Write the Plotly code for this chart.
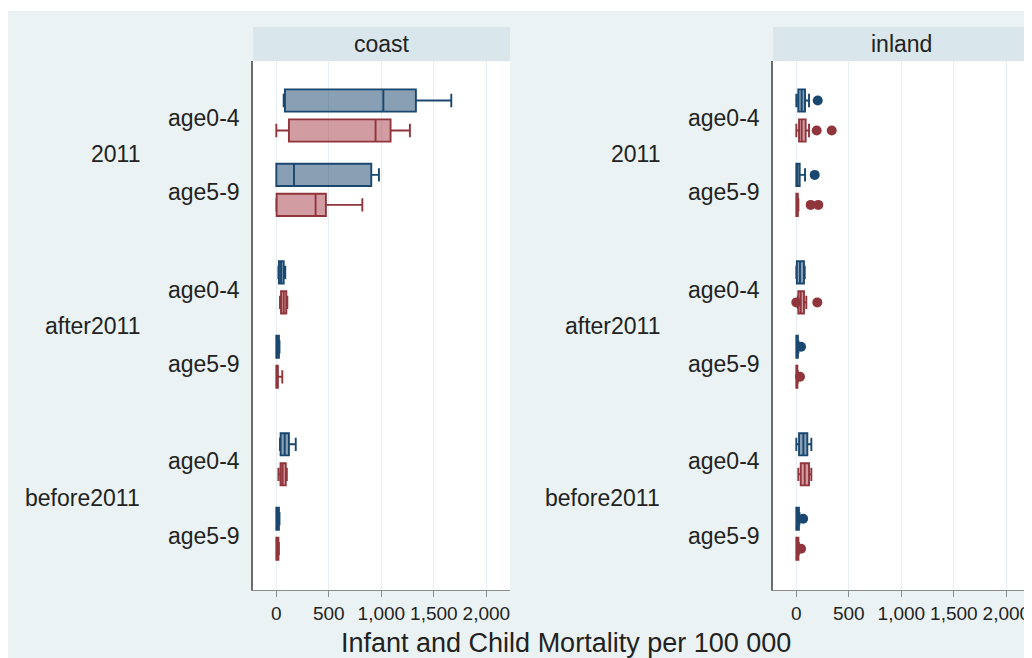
import plotly.graph_objects as go

W, H = 1032, 658

panels = ["coast", "inland"]
groups = ["2011", "after2011", "before2011"]
ages = ["age0-4", "age5-9"]
series = ["Series 1", "Series 2"]
tick_vals = [0, 500, 1000, 1500, 2000]

# Box statistics; order per list: 2011 age0-4, 2011 age5-9, after age0-4, after age5-9, before age0-4, before age5-9
coast_s1_lower = [70, 0, 20, 0, 35, 0]
coast_s1_q1 = [82, 0, 25, 0, 41, 0]
coast_s1_median = [1019, 168, 45, 10, 80, 10]
coast_s1_q3 = [1329, 904, 70, 25, 120, 25]
coast_s1_upper = [1666, 977, 85, 30, 185, 30]
coast_s1_out = [[], [], [], [], [], []]

coast_s2_lower = [0, 0, 35, 0, 20, 0]
coast_s2_q1 = [120, 3, 45, 0, 40, 0]
coast_s2_median = [945, 374, 70, 5, 60, 8]
coast_s2_q3 = [1088, 472, 95, 15, 90, 20]
coast_s2_upper = [1272, 819, 105, 57, 100, 25]
coast_s2_out = [[], [], [], [], [], []]

inland_s1_lower = [0, 0, 0, 0, 0, 0]
inland_s1_q1 = [19, 0, 5, 0, 26, 0]
inland_s1_median = [51, 5, 35, 3, 67, 5]
inland_s1_q3 = [83, 32, 73, 15, 105, 25]
inland_s1_upper = [121, 83, 80, 20, 143, 30]
inland_s1_out = [[204], [175], [], [45], [], [65]]

inland_s2_lower = [0, 0, 15, 0, 19, 0]
inland_s2_q1 = [26, 0, 19, 0, 42, 0]
inland_s2_median = [51, 3, 42, 3, 80, 5]
inland_s2_q3 = [89, 15, 73, 10, 121, 20]
inland_s2_upper = [121, 20, 95, 15, 143, 25]
inland_s2_out = [[194, 337], [137, 209], [0, 200], [35], [], [45]]

stats = {
    ("coast", 0): (coast_s1_lower, coast_s1_q1, coast_s1_median, coast_s1_q3, coast_s1_upper, coast_s1_out),
    ("coast", 1): (coast_s2_lower, coast_s2_q1, coast_s2_median, coast_s2_q3, coast_s2_upper, coast_s2_out),
    ("inland", 0): (inland_s1_lower, inland_s1_q1, inland_s1_median, inland_s1_q3, inland_s1_upper, inland_s1_out),
    ("inland", 1): (inland_s2_lower, inland_s2_q1, inland_s2_median, inland_s2_q3, inland_s2_upper, inland_s2_out),
}

line_colors = ["#1a476f", "#90353b"]
fill_colors = ["rgba(26,71,111,0.52)", "rgba(160,50,60,0.48)"]

# layout of category positions (in category units)
SER_STEP, AGE_STEP, GRP_STEP = 1.0, 2.48, 5.73


def pos(g, a, s):
    return g * GRP_STEP + a * AGE_STEP + s * SER_STEP


# the page body adds an 8px offset; convert screen pixels to paper fractions
OFF = 8


def px_x(x):
    return (x - OFF) / W


def px_y(y):
    return 1 - (y - OFF) / H


FONT = "Liberation Sans, Arial, sans-serif"
fig = go.Figure()

panel_px = {"coast": (253, 510), "inland": (773, 1030)}
plot_top, plot_bot = 61, 590

for pi, panel in enumerate(panels):
    xa = "x" if pi == 0 else "x2"
    ya = "y" if pi == 0 else "y2"
    for s in range(2):
        lo, q1, med, q3, up, outs = stats[(panel, s)]
        ys = [pos(g, a, s) for g in range(3) for a in range(2)]
        fig.add_trace(go.Box(
            y=ys, q1=q1, median=med, q3=q3, lowerfence=lo, upperfence=up,
            orientation="h", width=0.74, whiskerwidth=0.6, boxpoints=False,
            line=dict(color=line_colors[s], width=1.9), fillcolor=fill_colors[s],
            name=series[s], showlegend=False, xaxis=xa, yaxis=ya, hoverinfo="x",
        ))
        ox, oy = [], []
        for i, o in enumerate(outs):
            for v in o:
                ox.append(v)
                oy.append(ys[i])
        if ox:
            fig.add_trace(go.Scatter(
                x=ox, y=oy, mode="markers",
                marker=dict(color=line_colors[s], size=10, line=dict(width=0)),
                showlegend=False, xaxis=xa, yaxis=ya,
            ))

yrange = [(plot_bot - 100.5) / 30.0, (plot_top - 100.5) / 30.0]
xrange = [-222, 2225]
common_x = dict(range=xrange, tickvals=tick_vals, tickformat=",", ticks="outside", ticklen=6,
                tickcolor="#8c8c8c", showline=True, linecolor="#8c8c8c", linewidth=1.2,
                showgrid=True, gridcolor="#e6eef1", gridwidth=1, zeroline=False,
                tickfont=dict(family=FONT, size=19, color="#222"), automargin=False)
common_y = dict(range=yrange, showticklabels=False, ticks="", showgrid=False, zeroline=False,
                showline=True, linecolor="#6b6b6b", linewidth=1.6, automargin=False)

fig.update_layout(
    xaxis=dict(domain=[px_x(253), px_x(510)], anchor="y", **common_x),
    xaxis2=dict(domain=[px_x(773), px_x(1030)], anchor="y2", **common_x),
    yaxis=dict(domain=[px_y(plot_bot), px_y(plot_top)], anchor="x", **common_y),
    yaxis2=dict(domain=[px_y(plot_bot), px_y(plot_top)], anchor="x2", **common_y),
)

shapes = [
    dict(type="rect", xref="paper", yref="paper", x0=0, x1=1, y0=px_y(11), y1=1,
         fillcolor="white", line=dict(width=0), layer="below"),
]
annotations = []
label_font = dict(family=FONT, size=23, color="#222")
for panel, (x0, x1) in panel_px.items():
    shapes.append(dict(type="rect", xref="paper", yref="paper", x0=px_x(x0), x1=px_x(x1),
                       y0=px_y(plot_top), y1=px_y(27), fillcolor="#d9e6eb",
                       line=dict(width=0), layer="below"))
    annotations.append(dict(text=panel, xref="paper", yref="paper", x=px_x((x0 + x1) / 2),
                            y=px_y(44), showarrow=False, xanchor="center", yanchor="middle",
                            font=label_font))
    yref = "y" if panel == "coast" else "y2"
    for g, grp in enumerate(groups):
        gc = (pos(g, 0, 0) + pos(g, 1, 1)) / 2
        annotations.append(dict(text=grp, xref="paper", yref=yref, x=px_x(x0 - 111), y=gc + 0.05,
                                showarrow=False, xanchor="right", yanchor="middle", font=label_font))
        for a, age in enumerate(ages):
            ac = (pos(g, a, 0) + pos(g, a, 1)) / 2
            annotations.append(dict(text=age, xref="paper", yref=yref, x=px_x(x0 - 11), y=ac + 0.07,
                                    showarrow=False, xanchor="right", yanchor="middle", font=label_font))

annotations.append(dict(text="Infant and Child Mortality per 100 000", xref="paper", yref="paper",
                        x=px_x(566), y=px_y(643), showarrow=False, xanchor="center", yanchor="middle",
                        font=dict(family=FONT, size=27, color="#222")))

fig.update_layout(
    width=W, height=H, margin=dict(l=0, r=0, t=0, b=0),
    paper_bgcolor="#eaf2f3", plot_bgcolor="white",
    shapes=shapes, annotations=annotations, showlegend=False,
)

fig.write_html("out.html")
